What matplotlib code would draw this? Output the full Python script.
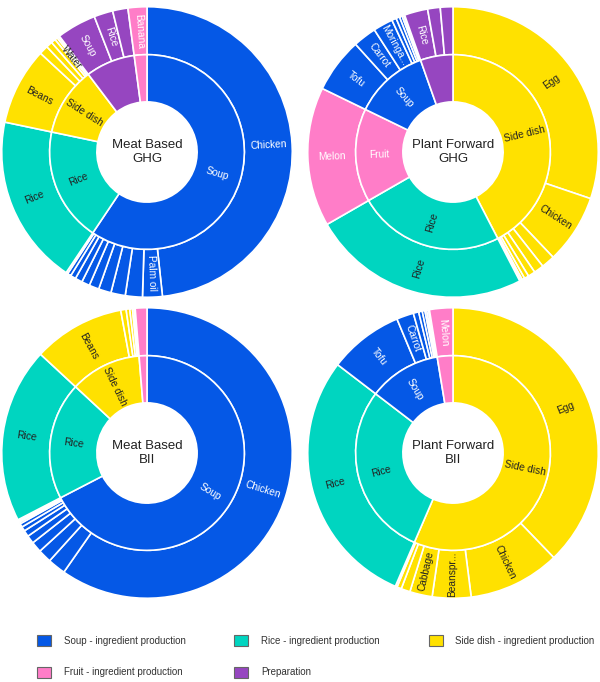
import matplotlib
matplotlib.use("Agg")
import matplotlib.pyplot as plt
import numpy as np
from matplotlib.patches import Patch

plt.rcParams.update({"font.family": ["Liberation Sans", "DejaVu Sans"]})

COLORS = {"Soup": "#0558E6", "Rice": "#00D5C0", "Side dish": "#FFE100",
          "Fruit": "#FF7DC8", "Preparation": "#9646C0"}
TEXT_ON = {"Soup": "white", "Rice": "#222222", "Side dish": "#222222",
           "Fruit": "white", "Preparation": "white"}

# --- Meat Based GHG ---
MB_GHG_PARENTS = ["Soup", "Rice", "Side dish", "Preparation", "Fruit"]
MB_GHG_VALS = [0.594, 0.189, 0.114, 0.082, 0.021]
MB_GHG_LABELS = ["Soup", "Rice", "Side dish", "", ""]
MB_GHG_CHILD_VALS = [
    [0.483, 0.022, 0.019, 0.016, 0.014, 0.011, 0.009, 0.008, 0.006, 0.004, 0.002],
    [0.189],
    [0.086, 0.010, 0.007, 0.005, 0.003, 0.002, 0.001],
    [0.044, 0.021, 0.017],
    [0.021],
]
MB_GHG_CHILD_LABELS = [
    ["Chicken", "Palm oil", "", "", "", "", "", "", "", "", ""],
    ["Rice"],
    ["Beans", "", "", "", "Water", "", ""],
    ["Soup", "Rice", ""],
    ["Banana"],
]

# --- Plant Forward GHG ---
PF_GHG_PARENTS = ["Side dish", "Rice", "Fruit", "Soup", "Preparation"]
PF_GHG_VALS = [0.424, 0.243, 0.155, 0.124, 0.054]
PF_GHG_LABELS = ["Side dish", "Rice", "Fruit", "Soup", ""]
PF_GHG_CHILD_VALS = [
    [0.302, 0.077, 0.015, 0.011, 0.008, 0.005, 0.003, 0.002, 0.001],
    [0.243],
    [0.155],
    [0.061, 0.026, 0.022, 0.005, 0.004, 0.003, 0.002, 0.001],
    [0.026, 0.014, 0.014],
]
PF_GHG_CHILD_LABELS = [
    ["Egg", "Chicken", "", "", "", "", "", "", ""],
    ["Rice"],
    ["Melon"],
    ["Tofu", "Carrot", "Moringa...", "", "", "", "", ""],
    ["Rice", "", ""],
]

# --- Meat Based BII ---
MB_BII_PARENTS = ["Soup", "Rice", "Side dish", "Fruit"]
MB_BII_VALS = [0.674, 0.195, 0.118, 0.013]
MB_BII_LABELS = ["Soup", "Rice", "Side dish", ""]
MB_BII_CHILD_VALS = [
    [0.597, 0.020, 0.015, 0.012, 0.009, 0.007, 0.005, 0.004, 0.002, 0.001, 0.001, 0.001],
    [0.195],
    [0.102, 0.006, 0.004, 0.003, 0.002, 0.001],
    [0.013],
]
MB_BII_CHILD_LABELS = [
    ["Chicken"] + [""] * 11,
    ["Rice"],
    ["Beans", "", "", "", "", ""],
    [""],
]

# --- Plant Forward BII ---
PF_BII_PARENTS = ["Side dish", "Rice", "Soup", "Fruit"]
PF_BII_VALS = [0.565, 0.289, 0.120, 0.026]
PF_BII_LABELS = ["Side dish", "Rice", "Soup", ""]
PF_BII_CHILD_VALS = [
    [0.378, 0.102, 0.043, 0.025, 0.010, 0.005, 0.002],
    [0.289],
    [0.083, 0.019, 0.006, 0.004, 0.003, 0.002, 0.002, 0.001],
    [0.026],
]
PF_BII_CHILD_LABELS = [
    ["Egg", "Chicken", "Beanspr...", "Cabbage", "", "", ""],
    ["Rice"],
    ["Tofu", "Carrot", "", "", "", "", "", ""],
    ["Melon"],
]

LEGEND_NAMES = ["Soup", "Rice", "Side dish", "Fruit", "Preparation"]
LEGEND_TEXT = ["Soup - ingredient production", "Rice - ingredient production",
               "Side dish - ingredient production", "Fruit - ingredient production",
               "Preparation"]

W, H = 600, 682
R_HOLE, R_MID = 0.345, 0.67


def label_ring(ax, vals, labels, r, colors):
    ends = np.cumsum(vals)
    starts = ends - np.array(vals)
    for s, e, lab, c in zip(starts, ends, labels, colors):
        if not lab:
            continue
        th = 360 * (s + e) / 2
        x, y = r * np.sin(np.radians(th)), r * np.cos(np.radians(th))
        rot = (90 - th) % 360
        if rot > 180:
            rot -= 360
        if rot > 90:
            rot -= 180
        elif rot < -90:
            rot += 180
        ax.text(x, y, lab, rotation=rot, rotation_mode="anchor", ha="center", va="center",
                fontsize=7.3, color=c)


def sunburst(cx, cy, title, parents, vals, labels, child_vals, child_labels):
    R = 146
    ax = fig.add_axes([(cx - R) / W, 1 - (cy + R) / H, 2 * R / W, 2 * R / H])
    out_vals, out_cols, out_labs, out_txt = [], [], [], []
    for p, cv, cl in zip(parents, child_vals, child_labels):
        out_vals += cv
        out_cols += [COLORS[p]] * len(cv)
        out_labs += cl
        out_txt += [TEXT_ON[p]] * len(cv)
    wp = dict(edgecolor="white", linewidth=1.2)
    ax.pie(out_vals, radius=1.0, colors=out_cols, startangle=90, counterclock=False,
           normalize=False, wedgeprops=dict(width=1.0 - R_MID, **wp))
    ax.pie(vals, radius=R_MID, colors=[COLORS[p] for p in parents], startangle=90,
           counterclock=False, normalize=False, wedgeprops=dict(width=R_MID - R_HOLE, **wp))
    label_ring(ax, out_vals, out_labs, (1.0 + R_MID) / 2, out_txt)
    label_ring(ax, vals, labels, (R_MID + R_HOLE) / 2, [TEXT_ON[p] for p in parents])
    ax.text(0, 0, title, ha="center", va="center", fontsize=9.5, color="#222222",
            linespacing=1.15)
    ax.set_xlim(-1.005, 1.005)
    ax.set_ylim(-1.005, 1.005)
    ax.set_aspect("equal")
    ax.axis("off")


fig = plt.figure(figsize=(W / 100, H / 100), dpi=100)

sunburst(147, 152, "Meat Based\nGHG", MB_GHG_PARENTS, MB_GHG_VALS, MB_GHG_LABELS,
         MB_GHG_CHILD_VALS, MB_GHG_CHILD_LABELS)
sunburst(453, 152, "Plant Forward\nGHG", PF_GHG_PARENTS, PF_GHG_VALS, PF_GHG_LABELS,
         PF_GHG_CHILD_VALS, PF_GHG_CHILD_LABELS)
sunburst(147, 453, "Meat Based\nBII", MB_BII_PARENTS, MB_BII_VALS, MB_BII_LABELS,
         MB_BII_CHILD_VALS, MB_BII_CHILD_LABELS)
sunburst(453, 453, "Plant Forward\nBII", PF_BII_PARENTS, PF_BII_VALS, PF_BII_LABELS,
         PF_BII_CHILD_VALS, PF_BII_CHILD_LABELS)

# legend fills column-first, so reorder to get rows: Soup/Rice/Side dish, Fruit/Preparation
order = [0, 3, 1, 4, 2]
handles = [Patch(facecolor=COLORS[LEGEND_NAMES[i]], edgecolor="#666666", linewidth=0.8,
                 label=LEGEND_TEXT[i]) for i in order]
fs = 7.0
px = fs * 100 / 72
fig.legend(handles=handles, ncol=3, frameon=False, fontsize=fs, loc="upper left",
           bbox_to_anchor=(37 / W, 1 - 635 / H), borderaxespad=0, borderpad=0,
           handlelength=14 / px, handleheight=13.4 / px, handletextpad=12.5 / px,
           columnspacing=49 / px, labelspacing=20.5 / px, labelcolor="#333333")

fig.savefig("out.png", dpi=100, facecolor="white")
